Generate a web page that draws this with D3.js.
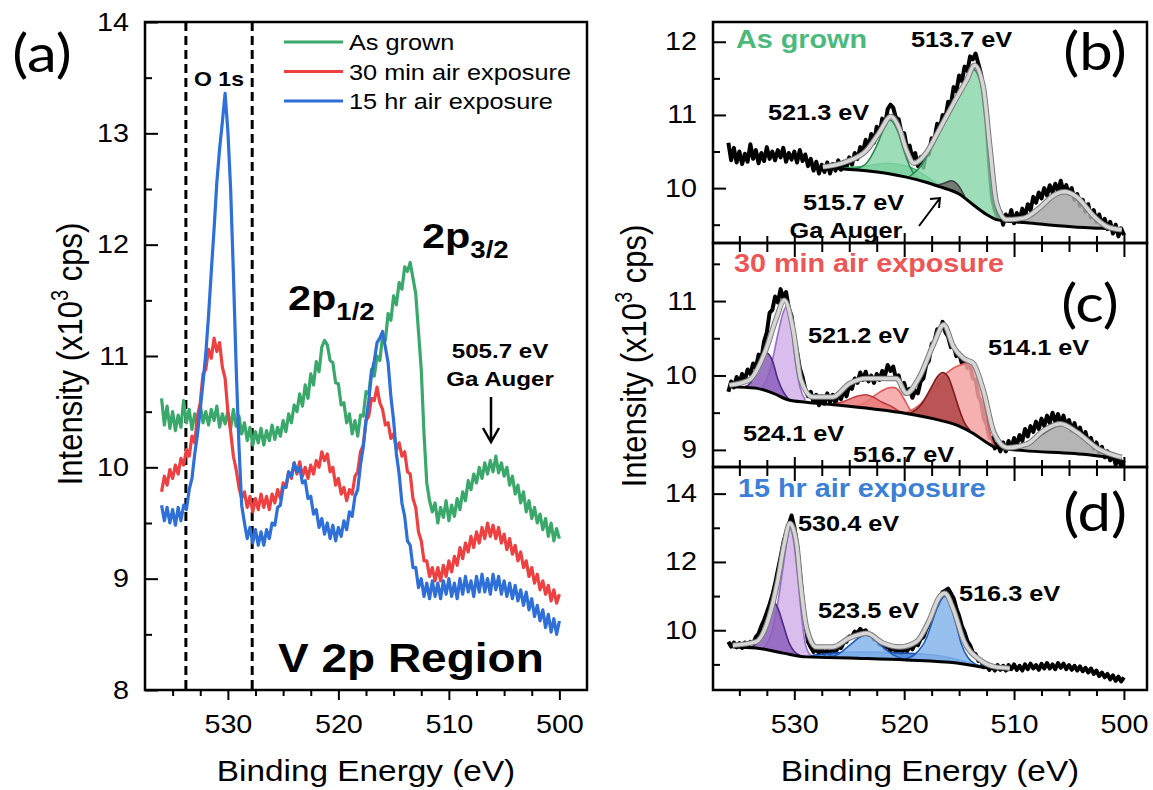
<!DOCTYPE html>
<html>
<head>
<meta charset="utf-8">
<script src="https://cdn.jsdelivr.net/npm/d3@7"></script>
<style>
  body { margin: 0; background: #fff; }
</style>
</head>
<body>
<svg id="fig" width="1153" height="790"></svg>
<script>
// ---- spectra: binding energy grid starts at 536 eV, 0.25 eV per point, down to 500 eV
var eStart = 536, eStep = 0.25;

var asGrown = [
  10.62,10.38,10.55,10.35,10.5,10.33,10.47,10.36,10.6,10.4,
  10.52,10.34,10.48,10.37,10.56,10.4,10.5,10.38,10.52,10.42,
  10.55,10.36,10.48,10.39,10.5,10.35,10.52,10.37,10.46,10.3,
  10.4,10.24,10.36,10.2,10.32,10.22,10.35,10.2,10.33,10.24,
  10.38,10.25,10.36,10.28,10.42,10.32,10.48,10.4,10.56,10.5,
  10.66,10.55,10.74,10.62,10.84,10.74,10.95,10.86,11.08,11.14,
  11.1,10.96,10.94,10.76,10.75,10.56,10.58,10.4,10.48,10.3,
  10.42,10.28,10.47,10.46,10.68,10.66,10.88,10.82,11.0,10.96,
  11.18,11.14,11.38,11.32,11.54,11.46,11.66,11.6,11.8,11.76,
  11.84,11.7,11.56,11.22,10.88,10.3,9.86,9.7,9.6,9.68,
  9.5,9.64,9.55,9.7,9.52,9.66,9.56,9.72,9.62,9.78,
  9.7,9.88,9.8,9.94,9.86,10.0,9.9,10.04,9.94,10.06,
  9.96,10.1,9.95,10.04,9.92,10.0,9.84,9.92,9.76,9.84,
  9.68,9.78,9.6,9.7,9.54,9.64,9.5,9.58,9.44,9.54,
  9.38,9.5,9.34,9.45,9.36
];
var min30 = [
  9.78,9.92,9.84,9.98,9.9,10.02,9.94,10.08,10.02,10.16,
  10.1,10.28,10.22,10.46,10.58,10.84,10.88,11.06,10.98,11.16,
  11.04,11.12,10.9,10.8,10.5,10.32,10.1,9.98,9.82,9.72,
  9.78,9.64,9.74,9.6,9.72,9.62,9.76,9.64,9.74,9.62,
  9.76,9.68,9.8,9.72,9.86,9.82,9.96,9.9,10.04,9.94,
  10.05,9.92,10.0,9.9,10.02,9.94,10.06,10.0,10.14,10.06,
  10.12,9.96,10.0,9.84,9.9,9.76,9.82,9.7,9.8,9.76,
  9.92,9.96,10.14,10.2,10.42,10.46,10.62,10.6,10.72,10.58,
  10.52,10.38,10.4,10.26,10.3,10.16,10.22,10.1,10.14,9.96,
  9.94,9.72,9.64,9.42,9.34,9.16,9.16,9.02,9.1,8.98,
  9.1,8.98,9.12,9.02,9.16,9.06,9.2,9.12,9.28,9.18,
  9.32,9.24,9.38,9.28,9.42,9.32,9.46,9.36,9.5,9.38,
  9.48,9.36,9.46,9.32,9.4,9.26,9.36,9.22,9.3,9.16,
  9.24,9.1,9.16,9.02,9.1,8.96,9.04,8.9,8.98,8.86,
  8.94,8.8,8.9,8.78,8.86
];
var hr15 = [
  9.66,9.52,9.64,9.5,9.62,9.48,9.64,9.52,9.66,9.62,
  9.8,9.9,10.12,10.3,10.52,10.76,11.02,11.36,11.76,12.14,
  12.56,12.86,13.1,13.36,13.02,12.5,11.74,10.9,10.2,9.66,
  9.5,9.36,9.46,9.32,9.44,9.3,9.42,9.3,9.44,9.36,
  9.5,9.48,9.64,9.66,9.82,9.82,9.96,9.92,10.04,9.96,
  10.0,9.86,9.88,9.72,9.74,9.58,9.62,9.46,9.54,9.4,
  9.5,9.36,9.48,9.34,9.46,9.38,9.52,9.44,9.6,9.56,
  9.74,9.8,10.02,10.18,10.42,10.6,10.84,10.96,11.12,11.16,
  11.22,11.08,10.94,10.64,10.42,10.12,9.94,9.68,9.56,9.34,
  9.3,9.1,9.1,8.92,9.0,8.84,8.96,8.82,8.98,8.84,
  8.96,8.82,8.98,8.86,9.0,8.84,8.96,8.82,9.0,8.86,
  9.02,8.88,8.98,8.84,9.02,8.88,9.04,8.88,9.0,8.86,
  9.04,8.9,9.02,8.86,8.98,8.84,8.96,8.82,8.94,8.8,
  8.9,8.76,8.88,8.72,8.82,8.66,8.76,8.62,8.72,8.56,
  8.68,8.52,8.64,8.5,8.62
];
var seriesNames = ['As grown', '30 min air exposure', '15 hr air exposure'];
var o1sWindow = [533.8, 527.8];

// ---- fits, [eV, value] for envelopes/backgrounds, [eV, background, top] for components
var envB = [[527.4,10.29],[525.3,10.36],[523.4,10.52],[522.3,10.75],[521.2,10.98],[520.4,10.8],[519.8,10.52],[519.1,10.34],[518,10.48],[516.8,10.8],[515.5,11.16],[514.3,11.48],[513.6,11.68],[512.8,11.38],[512.2,10.56],[511.6,9.8],[510.7,9.57],[509.1,9.59],[507.6,9.74],[506.4,9.9],[505.4,9.95],[504.3,9.88],[502.7,9.61],[501.5,9.47],[500.2,9.43]];
var bgB = [[527.4,10.28],[525.5,10.26],[523.7,10.24],[521.5,10.2],[519.8,10.15],[518,10.08],[516.8,10.02],[515,9.92],[513.7,9.77],[512.5,9.64],[511.6,9.57],[510,9.54],[509.1,9.53],[507,9.5],[504.5,9.47],[502,9.45],[500.2,9.43]];
var bV521 = [[524.5,10.25,10.26],[523.5,10.24,10.33],[522.5,10.22,10.58],[522,10.21,10.76],[521.3,10.2,10.93],[520.6,10.17,10.78],[520,10.15,10.5],[519.5,10.14,10.3],[519,10.12,10.17],[518.5,10.1,10.11]];
var bVbroad = [[525.5,10.26,10.27],[523.5,10.24,10.3],[521.5,10.2,10.34],[519.5,10.14,10.29],[518,10.08,10.16],[516.8,10.02,10.04]];
var bV514 = [[519.5,10.14,10.16],[518.5,10.1,10.3],[517.5,10.06,10.55],[516.5,10.0,10.85],[515.5,9.95,11.15],[514.5,9.86,11.45],[513.7,9.77,11.62],[513,9.7,11.4],[512.5,9.64,10.85],[512,9.6,10.15],[511.5,9.57,9.66],[511,9.56,9.57]];
var bGa516 = [[517,10.03,10.04],[516.3,10.0,10.07],[515.7,9.96,10.1],[515.2,9.93,10.06],[514.5,9.87,9.89]];
var bGa506 = [[510.5,9.55,9.56],[509,9.53,9.6],[508,9.52,9.7],[507,9.5,9.83],[506,9.49,9.92],[505.5,9.49,9.94],[505,9.48,9.92],[504,9.47,9.82],[503,9.46,9.67],[502,9.45,9.55],[501,9.44,9.47],[500.2,9.43,9.43]];

var envC = [[535.9,9.87],[534.1,9.94],[532.6,10.34],[531.7,10.74],[530.9,11.01],[530.1,10.61],[529.4,9.94],[528.3,9.71],[526.5,9.71],[525,9.89],[523.4,9.96],[521.9,9.96],[520.7,9.96],[519.8,9.76],[518.6,9.98],[517.3,10.43],[516.4,10.68],[515.5,10.38],[514.6,10.23],[513.7,10.16],[512.8,9.8],[511.8,9.22],[510.6,9.03],[508.8,9.08],[507.3,9.26],[505.8,9.35],[504.3,9.24],[502.4,9.02],[500.2,8.9]];
var bgC = [[535.9,9.85],[533.5,9.83],[531.9,9.76],[530.5,9.67],[528.9,9.64],[525.9,9.6],[522.8,9.55],[519.8,9.49],[516.8,9.4],[515,9.32],[513.7,9.22],[512.5,9.1],[511.6,9.03],[509.1,8.99],[504.5,8.95],[500.2,8.88]];
var cO530 = [[533,9.81,9.82],[532.5,9.79,9.95],[532,9.77,10.2],[531.5,9.74,10.55],[531,9.7,10.85],[530.7,9.68,10.93],[530.3,9.67,10.7],[530,9.66,10.3],[529.5,9.65,9.85],[529,9.64,9.67]];
var cO532 = [[534.5,9.84,9.85],[534,9.83,9.9],[533.5,9.83,10.05],[533,9.81,10.22],[532.5,9.79,10.3],[532,9.77,10.2],[531.5,9.74,9.95],[531,9.7,9.78],[530.5,9.67,9.68]];
var cV524 = [[526.5,9.6,9.61],[525.5,9.59,9.65],[524.5,9.57,9.71],[524,9.56,9.73],[523.5,9.56,9.74],[523,9.55,9.72],[522,9.54,9.64],[521,9.52,9.57],[520.5,9.51,9.52]];
var cV521 = [[524.5,9.57,9.58],[523.5,9.56,9.64],[522.5,9.54,9.75],[521.5,9.53,9.83],[521,9.52,9.84],[520.5,9.51,9.8],[520,9.5,9.68],[519.5,9.48,9.55],[519,9.47,9.48]];
var cV514 = [[519.8,9.49,9.5],[518.5,9.46,9.62],[517.5,9.43,9.8],[516.5,9.4,9.98],[515.5,9.35,10.1],[514.5,9.28,10.16],[514,9.25,10.18],[513.5,9.2,10.12],[513,9.15,9.85],[512.5,9.1,9.45],[512,9.06,9.12],[511.7,9.04,9.04]];
var cV517 = [[519.5,9.48,9.49],[518.5,9.46,9.6],[517.5,9.43,9.85],[517,9.42,9.98],[516.5,9.4,10.04],[516,9.38,9.98],[515.5,9.35,9.78],[515,9.32,9.55],[514.5,9.28,9.36],[514,9.25,9.26]];
var cGa506 = [[510.5,9.01,9.02],[509,8.99,9.06],[508,8.98,9.15],[507,8.97,9.25],[506,8.96,9.32],[505.5,8.96,9.33],[505,8.95,9.31],[504,8.94,9.22],[503,8.93,9.08],[502,8.91,8.96],[501,8.9,8.91]];

var envD = [[535.6,9.56],[533.5,9.66],[532.3,10.38],[531.5,11.46],[530.9,12.55],[530.4,13.13],[529.8,12.55],[529.4,11.27],[528.9,10.1],[528,9.51],[526.5,9.51],[525,9.77],[523.4,9.91],[521.9,9.62],[520.4,9.51],[518.9,9.66],[517.7,10.3],[516.8,10.97],[516.3,11.08],[515.5,10.59],[514.6,9.71],[513.1,9.13],[511.6,8.92],[510.4,8.89]];
var bgD = [[535.6,9.51],[533.5,9.48],[531,9.33],[528.9,9.22],[524.3,9.18],[519.8,9.13],[515.2,9.04],[512.2,8.89],[510.4,8.84]];
var dO530 = [[533,9.45,9.46],[532.5,9.42,9.6],[532,9.39,10.0],[531.5,9.36,10.8],[531,9.33,11.9],[530.6,9.31,12.75],[530.4,9.3,13.05],[530.1,9.28,12.7],[529.7,9.26,11.6],[529.3,9.24,10.3],[529,9.22,9.6],[528.5,9.21,9.25]];
var dO532 = [[534,9.49,9.5],[533.5,9.48,9.6],[533,9.45,9.9],[532.5,9.42,10.35],[532,9.39,10.75],[531.8,9.38,10.8],[531.5,9.36,10.65],[531,9.33,10.15],[530.5,9.3,9.65],[530,9.28,9.38],[529.5,9.25,9.26]];
var dVbroad = [[529,9.22,9.23],[527,9.2,9.32],[524,9.18,9.36],[520,9.13,9.33],[516.5,9.06,9.24],[514,8.96,9.04],[512.5,8.9,8.91]];
var dV523 = [[527,9.2,9.21],[526,9.19,9.3],[525,9.18,9.55],[524,9.18,9.8],[523.5,9.17,9.86],[523,9.17,9.8],[522,9.16,9.52],[521,9.15,9.28],[520,9.13,9.15]];
var dV516 = [[520,9.13,9.15],[519,9.11,9.3],[518,9.09,9.75],[517.5,9.08,10.2],[517,9.07,10.65],[516.3,9.05,11.0],[515.8,9.04,10.75],[515.3,9.02,10.2],[514.8,9.0,9.6],[514.2,8.97,9.2],[513.5,8.94,9.0],[513,8.92,8.93]];

// ---- ticks
var xMajor = [530, 520, 510, 500];
var xMinor = [535, 532.5, 527.5, 525, 522.5, 517.5, 515, 512.5, 507.5, 505, 502.5];
var yMajorA = [8, 9, 10, 11, 12, 13, 14];
var yMinorA = [8.5, 9.5, 10.5, 11.5, 12.5, 13.5];

var svg = d3.select('#fig');
var SX = 1.15;
var SANS = "'Liberation Sans', Arial, Helvetica, sans-serif";
var colors = ['#3aa86a', '#ee4040', '#2e6fd8'];

function pts(vals) {
    return vals.map(function(v, i) { return [eStart - i * eStep, v]; });
}

function label(g, x, y, str, size, opt) {
    opt = opt || {};
    return g.append('text')
        .attr('transform', 'translate(' + x + ',' + y + ') scale(' + SX + ',1)' + (opt.rotate ? ' rotate(' + opt.rotate + ')' : ''))
        .attr('font-family', opt.family || SANS)
        .attr('font-size', size)
        .attr('font-weight', opt.bold ? 'bold' : 'normal')
        .attr('fill', opt.color || '#000')
        .attr('text-anchor', opt.anchor || 'start')
        .text(str);
}

function leftAxis(g, y, x0, majors, minors) {
    var a = g.append('g').attr('transform', 'translate(' + x0 + ',0)')
        .call(d3.axisLeft(y).tickValues(majors).tickSize(-13).tickPadding(16).tickFormat(d3.format('d')));
    a.attr('font-size', 25).attr('font-family', SANS);
    a.select('.domain').remove();
    a.selectAll('line').attr('stroke-width', 2);
    a.selectAll('text').attr('x', -16 / SX).attr('transform', 'scale(' + SX + ',1)');
    var m = g.append('g').attr('transform', 'translate(' + x0 + ',0)')
        .call(d3.axisLeft(y).tickValues(minors).tickSize(-7).tickFormat(''));
    m.select('.domain').remove();
    m.selectAll('line').attr('stroke-width', 2);
}

// dir: 'out' = below the frame with labels, 'up' = inward from bottom, 'down' = inward from top
function xTicks(g, x, y0, dir) {
    var big = dir === 'out' ? 10 : (dir === 'down' ? 14 : 10);
    var small = dir === 'out' ? 6 : (dir === 'down' ? 9 : 7);
    var mk = dir === 'down' ? d3.axisTop : d3.axisBottom;
    var sgn = dir === 'out' ? 1 : -1;
    var a = g.append('g').attr('transform', 'translate(0,' + y0 + ')')
        .call(mk(x).tickValues(xMajor).tickSize(sgn * big).tickPadding(15)
            .tickFormat(dir === 'out' ? d3.format('d') : ''));
    a.attr('font-size', 25).attr('font-family', SANS);
    a.select('.domain').remove();
    a.selectAll('line').attr('stroke-width', 2);
    a.selectAll('text').attr('transform', 'scale(' + SX + ',1)');
    var m = g.append('g').attr('transform', 'translate(0,' + y0 + ')')
        .call(mk(x).tickValues(xMinor).tickSize(sgn * small).tickFormat(''));
    m.select('.domain').remove();
    m.selectAll('line').attr('stroke-width', 2);
}

function yTitle(g, x, y) {
    var t = g.append('text')
        .attr('transform', 'translate(' + x + ',' + y + ') scale(' + SX + ',1) rotate(-90)')
        .attr('font-family', SANS).attr('font-size', 31).attr('text-anchor', 'middle');
    t.append('tspan').text('Intensity (x10');
    t.append('tspan').attr('font-size', 20).attr('dy', -12).text('3');
    t.append('tspan').attr('dy', 12).text(' cps)');
}

// ================= panel (a)
var xA = d3.scaleLinear().domain([537.5, 497.5]).range([145, 587]);
var yA = d3.scaleLinear().domain([8, 14]).range([690, 22]);
var gA = svg.append('g');
gA.append('clipPath').attr('id', 'clipA').append('rect')
    .attr('x', 145).attr('y', 22).attr('width', 442).attr('height', 668);
var lineA = d3.line().x(function(d) { return xA(d[0]); }).y(function(d) { return yA(d[1]); });
var plotA = gA.append('g').attr('clip-path', 'url(#clipA)');

o1sWindow.forEach(function(e) {
    plotA.append('line')
        .attr('x1', xA(e)).attr('x2', xA(e)).attr('y1', 22).attr('y2', 690)
        .attr('stroke', '#000').attr('stroke-width', 3).attr('stroke-dasharray', '9,5');
});
[asGrown, min30, hr15].forEach(function(s, i) {
    plotA.append('path').datum(pts(s))
        .attr('d', lineA).attr('fill', 'none')
        .attr('stroke', colors[i]).attr('stroke-width', 3.2).attr('stroke-linejoin', 'round');
});

leftAxis(gA, yA, 145, yMajorA, yMinorA);
xTicks(gA, xA, 690, 'out');
gA.append('rect').attr('x', 145).attr('y', 22).attr('width', 442).attr('height', 668)
    .attr('fill', 'none').attr('stroke', '#000').attr('stroke-width', 2.5);

// legend
seriesNames.forEach(function(n, i) {
    var ly = 42 + i * 29.5;
    gA.append('line').attr('x1', 284).attr('x2', 343).attr('y1', ly).attr('y2', ly)
        .attr('stroke', colors[i]).attr('stroke-width', 3);
    label(gA, 349, ly + 8, n, 22);
});

label(gA, 219, 86, 'O 1s', 20, {bold: true, anchor: 'middle'});
var p32 = label(gA, 422, 248, '2p', 36, {bold: true});
p32.append('tspan').attr('font-size', 24).attr('dy', 10).text('3/2');
var p12 = label(gA, 288, 310, '2p', 36, {bold: true});
p12.append('tspan').attr('font-size', 24).attr('dy', 10).text('1/2');
label(gA, 500, 358, '505.7 eV', 21, {bold: true, anchor: 'middle'});
label(gA, 500, 386, 'Ga Auger', 21, {bold: true, anchor: 'middle'});
gA.append('path').attr('d', 'M491,397 L491,441 M483,428 L491,442 L499,428')
    .attr('fill', 'none').attr('stroke', '#000').attr('stroke-width', 2.5);
label(gA, 278, 672, 'V 2p Region', 40, {bold: true});
label(gA, 42, 72, '(a)', 52, {family: 'Lato, "Open Sans", sans-serif', anchor: 'middle'});
yTitle(gA, 82, 354);
label(gA, 366, 781, 'Binding Energy (eV)', 29, {anchor: 'middle'});

// ================= panels (b) (c) (d)
var xR = d3.scaleLinear().domain([537.4, 497.9]).range([713, 1147]);
var styles = {
    green:   {fill: '#84d4a6', stroke: '#2a8c52', op: 0.8},
    greenLo: {fill: '#5cc588', stroke: '#35b060', op: 0.8},
    grey:    {fill: '#a8a8a8', stroke: '#505050', op: 0.85},
    greyDk:  {fill: '#707070', stroke: '#404040', op: 0.9},
    purL:    {fill: '#d2b3ea', stroke: '#9a6ccc', op: 0.85},
    purD:    {fill: '#8c5fbc', stroke: '#4e2a80', op: 0.85},
    redL:    {fill: '#f4a2a2', stroke: '#e25a5a', op: 0.85},
    redM:    {fill: '#e87878', stroke: '#c23c3c', op: 0.85},
    redD:    {fill: '#b54a4a', stroke: '#7d1c1c', op: 0.9},
    blueL:   {fill: '#86b5ec', stroke: '#1f5cb8', op: 0.85},
    blueLo:  {fill: '#3c7ad6', stroke: '#1a4fa8', op: 0.85}
};
var panels = [
    {top: 22, bottom: 243, dom: [9.25, 12.27], majors: [10, 11, 12], minors: [9.5, 10.5, 11.5],
     raw: asGrown, env: envB, bg: bgB, ticksTop: null, ticksBottom: 'up',
     comps: [[bVbroad, 'greenLo'], [bV521, 'green'], [bV514, 'green'], [bGa516, 'greyDk'], [bGa506, 'grey']]},
    {top: 243, bottom: 467, dom: [8.77, 11.78], majors: [9, 10, 11], minors: [9.5, 10.5, 11.5],
     raw: min30, env: envC, bg: bgC, ticksTop: 'down', ticksBottom: 'up',
     comps: [[cO530, 'purL'], [cO532, 'purD'], [cV521, 'redL'], [cV524, 'redM'], [cV514, 'redL'], [cV517, 'redD'], [cGa506, 'grey']]},
    {top: 467, bottom: 690, dom: [8.25, 14.78], majors: [10, 12, 14], minors: [9, 11, 13],
     raw: hr15, env: envD, bg: bgD, ticksTop: 'down', ticksBottom: 'out',
     comps: [[dVbroad, 'blueLo'], [dO530, 'purL'], [dO532, 'purD'], [dV523, 'blueL'], [dV516, 'blueL']]}
];

var gR = svg.append('g');
panels.forEach(function(p, k) {
    var y = d3.scaleLinear().domain(p.dom).range([p.bottom, p.top]);
    var id = 'clipR' + k;
    gR.append('clipPath').attr('id', id).append('rect')
        .attr('x', 713).attr('y', p.top).attr('width', 434).attr('height', p.bottom - p.top);
    var g = gR.append('g').attr('clip-path', 'url(#' + id + ')');
    var line = d3.line().x(function(d) { return xR(d[0]); }).y(function(d) { return y(d[1]); });
    var smooth = d3.line().curve(d3.curveMonotoneX)
        .x(function(d) { return xR(d[0]); }).y(function(d) { return y(d[1]); });
    var area = d3.area().curve(d3.curveMonotoneX)
        .x(function(d) { return xR(d[0]); })
        .y0(function(d) { return y(d[1]); })
        .y1(function(d) { return y(d[2]); });
    var top = d3.line().curve(d3.curveMonotoneX)
        .x(function(d) { return xR(d[0]); }).y(function(d) { return y(d[2]); });

    g.append('path').datum(pts(p.raw)).attr('d', line)
        .attr('fill', 'none').attr('stroke', '#000').attr('stroke-width', 4).attr('stroke-linejoin', 'round');
    p.comps.forEach(function(c) {
        var s = styles[c[1]];
        g.append('path').datum(c[0]).attr('d', area).attr('fill', s.fill).attr('fill-opacity', s.op);
        g.append('path').datum(c[0]).attr('d', top).attr('fill', 'none')
            .attr('stroke', s.stroke).attr('stroke-width', 1.6);
    });
    g.append('path').datum(p.bg).attr('d', smooth)
        .attr('fill', 'none').attr('stroke', '#000').attr('stroke-width', 3);
    g.append('path').datum(p.env).attr('d', smooth)
        .attr('fill', 'none').attr('stroke', '#7a7a7a').attr('stroke-width', 5.5);
    g.append('path').datum(p.env).attr('d', smooth)
        .attr('fill', 'none').attr('stroke', '#d6d6d6').attr('stroke-width', 3.5);

    leftAxis(gR, y, 713, p.majors, p.minors);
    if (p.ticksTop) xTicks(gR, xR, p.top, p.ticksTop);
    if (p.ticksBottom) xTicks(gR, xR, p.bottom, p.ticksBottom);
    gR.append('rect').attr('x', 713).attr('y', p.top).attr('width', 434).attr('height', p.bottom - p.top)
        .attr('fill', 'none').attr('stroke', '#000').attr('stroke-width', 2.5);
});

var PL = 'Lato, "Open Sans", sans-serif';
label(gR, 1095, 70, '(b)', 52, {family: PL, anchor: 'middle'});
label(gR, 1090, 322, '(c)', 52, {family: PL, anchor: 'middle'});
label(gR, 1095, 531, '(d)', 52, {family: PL, anchor: 'middle'});

label(gR, 736, 48, 'As grown', 25, {bold: true, color: '#4cb97c'});
label(gR, 911, 47, '513.7 eV', 22, {bold: true});
label(gR, 768, 120, '521.3 eV', 22, {bold: true});
label(gR, 803, 210, '515.7 eV', 22, {bold: true});
label(gR, 846, 238, 'Ga Auger', 22, {bold: true, anchor: 'middle'});
gR.append('path').attr('d', 'M919,226 L940,198 M930,199 L940,198 L939,208')
    .attr('fill', 'none').attr('stroke', '#000').attr('stroke-width', 2);

label(gR, 734, 272, '30 min air exposure', 25, {bold: true, color: '#ec5656'});
label(gR, 808, 343, '521.2 eV', 22, {bold: true});
label(gR, 988, 355, '514.1 eV', 22, {bold: true});
label(gR, 743, 441, '524.1 eV', 22, {bold: true});
label(gR, 853, 462, '516.7 eV', 22, {bold: true});

label(gR, 738, 497, '15 hr air exposure', 25, {bold: true, color: '#3b7fd6'});
label(gR, 798, 531, '530.4 eV', 22, {bold: true});
label(gR, 818, 618, '523.5 eV', 22, {bold: true});
label(gR, 959, 601, '516.3 eV', 22, {bold: true});

yTitle(gR, 646, 356);
label(gR, 930, 781, 'Binding Energy (eV)', 29, {anchor: 'middle'});
</script>
</body>
</html>
